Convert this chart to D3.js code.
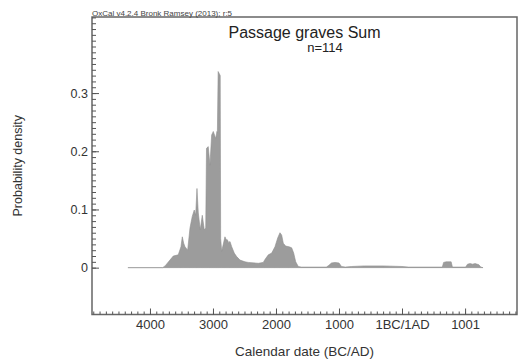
<!DOCTYPE html>
<html>
<head>
<meta charset="utf-8">
<script src="https://cdn.jsdelivr.net/npm/d3@7"></script>
<style>
  body { margin: 0; background: #fff; }
  svg { display: block; font-family: "Liberation Sans", Arial, sans-serif; }
  .axis text { fill: #333; }
  .axis line { stroke: #555; }
</style>
</head>
<body>
<script>
//summed probability (year BC negative, density)
var years = [-4350, -3800, -3760, -3683, -3630, -3551, -3508, -3487, -3465, -3444, -3402,
  -3365, -3329, -3297, -3275, -3254, -3233, -3202, -3170, -3138, -3115, -3103, -3075,
  -3048, -3021, -2995, -2957, -2937, -2930, -2918, -2885, -2878, -2862, -2810, -2790,
  -2773, -2750, -2730, -2703, -2662, -2624, -2571, -2492, -2440, -2281, -2202, -2175,
  -2122, -2068, -2016, -1973, -1937, -1910, -1884, -1846, -1794, -1751, -1719, -1687,
  -1646, -1600, -1200, -1160, -1120, -1063, -1000, -960, -900, -800, -600, -300, 0, 100,
  640, 660, 700, 780, 800, 1010, 1040, 1080, 1120, 1160, 1220, 1250, 1286];
var density = [0, 0, 0.003, 0.013, 0.020, 0.022, 0.036, 0.053, 0.042, 0.036, 0.030,
  0.068, 0.088, 0.099, 0.090, 0.136, 0.094, 0.065, 0.090, 0.065, 0.068, 0.205, 0.208,
  0.176, 0.228, 0.234, 0.222, 0.234, 0.232, 0.337, 0.330, 0.050, 0.028, 0.053, 0.048,
  0.048, 0.043, 0.045, 0.036, 0.025, 0.019, 0.013, 0.010, 0.009, 0.0075, 0.009, 0.014,
  0.022, 0.025, 0.036, 0.051, 0.060, 0.056, 0.042, 0.037, 0.036, 0.034, 0.025, 0.010,
  0.002, 0.001, 0.001, 0.004, 0.008, 0.009, 0.008, 0.002, 0.001, 0.002, 0.003, 0.003, 0.002, 0.001,
  0.001, 0.009, 0.010, 0.010, 0.001, 0.001, 0.006, 0.007, 0.006, 0.007, 0.005, 0.001, 0];

//axis ticks
var xTicks = [-4000, -3000, -2000, -1000, 0, 1001];
var xTickLabels = ["4000", "3000", "2000", "1000", "1BC/1AD", "1001"];
var yTicks = [0, 0.1, 0.2, 0.3];
var yTickLabels = ["0", "0.1", "0.2", "0.3"];

drawChart();

function drawChart(){
    var width = 519,
        height = 360;

    var svg = d3.select("body")
        .append("svg")
        .attr("width", width)
        .attr("height", height);

    //plot frame edges
    var frameLeft = 92, frameRight = 517, frameTop = 17, frameBottom = 314.5;

    var x = d3.scaleLinear()
        .domain([-4920, 1825])
        .range([frameLeft, frameRight]);

    var y = d3.scaleLinear()
        .domain([-0.0805, 0.4307])
        .range([frameBottom, frameTop]);

    var points = years.map(function(d, i){ return [d, density[i]]; });

    //density area
    var area = d3.area()
        .x(function(d){ return x(d[0]); })
        .y0(y(0))
        .y1(function(d){ return y(d[1]); });

    svg.append("path")
        .datum(points)
        .attr("d", area)
        .attr("fill", "#9c9c9c")
        .attr("stroke", "#8e8e8e")
        .attr("stroke-width", 0.6);

    //frame
    svg.append("rect")
        .attr("x", frameLeft)
        .attr("y", frameTop)
        .attr("width", frameRight - frameLeft)
        .attr("height", frameBottom - frameTop)
        .attr("fill", "none")
        .attr("stroke", "#666")
        .attr("stroke-width", 1.5);

    //x axis, minor then major ticks pointing up into the plot
    svg.append("g")
        .attr("class", "axis")
        .attr("transform", "translate(0," + frameBottom + ")")
        .call(d3.axisBottom(x).tickValues(d3.range(-4900, 1801, 100)).tickSize(-3).tickFormat(""))
        .call(function(g){ g.select(".domain").remove(); });

    svg.append("g")
        .attr("class", "axis")
        .attr("transform", "translate(0," + frameBottom + ")")
        .call(d3.axisBottom(x).tickValues(xTicks).tickSize(-6).tickPadding(5)
            .tickFormat(function(d, i){ return xTickLabels[i]; }))
        .call(function(g){
            g.select(".domain").remove();
            g.selectAll("text").attr("font-size", 13);
        });

    //y axis
    svg.append("g")
        .attr("class", "axis")
        .attr("transform", "translate(" + frameLeft + ",0)")
        .call(d3.axisLeft(y).tickValues(d3.range(0, 0.431, 0.01)).tickSize(-4).tickFormat(""))
        .call(function(g){ g.select(".domain").remove(); });

    svg.append("g")
        .attr("class", "axis")
        .attr("transform", "translate(" + frameLeft + ",0)")
        .call(d3.axisLeft(y).tickValues(yTicks).tickSize(-7).tickPadding(4)
            .tickFormat(function(d, i){ return yTickLabels[i]; }))
        .call(function(g){
            g.select(".domain").remove();
            g.selectAll("text").attr("font-size", 12.5);
        });

    //texts
    svg.append("text")
        .attr("x", frameLeft)
        .attr("y", 15.5)
        .attr("font-size", 8)
        .attr("fill", "#444")
        .text("OxCal v4.2.4 Bronk Ramsey (2013); r:5");

    svg.append("text")
        .attr("x", (frameLeft + frameRight) / 2)
        .attr("y", 37.5)
        .attr("text-anchor", "middle")
        .attr("font-size", 16)
        .attr("fill", "#222")
        .text("Passage graves Sum");

    svg.append("text")
        .attr("x", 325)
        .attr("y", 52)
        .attr("text-anchor", "middle")
        .attr("font-size", 13)
        .attr("fill", "#222")
        .text("n=114");

    svg.append("text")
        .attr("x", (frameLeft + frameRight) / 2)
        .attr("y", 356)
        .attr("text-anchor", "middle")
        .attr("font-size", 13.5)
        .attr("fill", "#333")
        .text("Calendar date (BC/AD)");

    svg.append("text")
        .attr("transform", "translate(21.5," + ((frameTop + frameBottom) / 2) + ") rotate(-90)")
        .attr("text-anchor", "middle")
        .attr("font-size", 12.5)
        .attr("fill", "#333")
        .text("Probability density");
}
</script>
</body>
</html>
